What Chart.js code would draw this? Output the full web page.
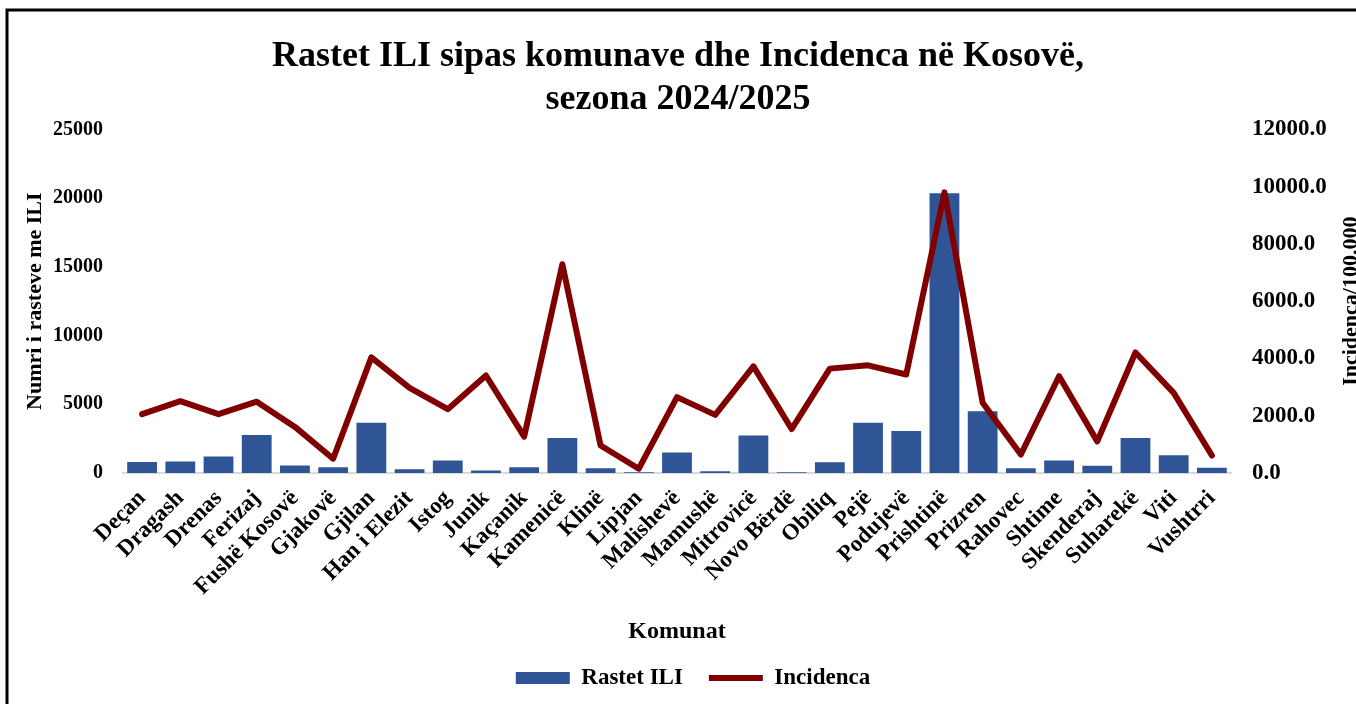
<!DOCTYPE html>
<html>
<head>
<meta charset="utf-8">
<script src="https://cdn.jsdelivr.net/npm/chart.js@4.4.1/dist/chart.umd.min.js"></script>
<style>
  html, body { margin: 0; padding: 0; background: #ffffff; }
  #wrap { position: relative; width: 1356px; height: 704px; }
</style>
</head>
<body>
<div id="wrap"><canvas id="c" width="1356" height="704"></canvas></div>
<script>
const categories = ["Deçan","Dragash","Drenas","Ferizaj","Fushë Kosovë","Gjakovë","Gjilan","Han i Elezit","Istog","Junik","Kaçanik","Kamenicë","Klinë","Lipjan","Malishevë","Mamushë","Mitrovicë","Novo Bërdë","Obiliq","Pejë","Podujevë","Prishtinë","Prizren","Rahovec","Shtime","Skenderaj","Suharekë","Viti","Vushtrri"];
const rastetILI = [800, 840, 1200, 2770, 550, 410, 3650, 270, 910, 190, 410, 2550, 340, 60, 1490, 120, 2720, 50, 790, 3650, 3050, 20350, 4500, 340, 910, 530, 2550, 1300, 390];
const incidenca = [2055, 2510, 2055, 2490, 1610, 500, 4040, 2975, 2230, 3405, 1270, 7290, 960, 150, 2650, 2030, 3725, 1535, 3645, 3760, 3440, 9800, 2455, 645, 3380, 1105, 4210, 2800, 610];
const leftTicks = [0, 5000, 10000, 15000, 20000, 25000];
const rightTicks = [0, 2000, 4000, 6000, 8000, 10000, 12000];

const SERIF = "'Liberation Serif', 'Times New Roman', serif";
const BLUE = '#2F5597';
const RED = '#800000';

const framePlugin = {
  id: 'frame',
  afterLayout(chart) {
    if (chart.legend) {
      chart.legend.left += 15;
      chart.legend.right += 15;
    }
  },
  beforeDraw(chart) {
    const ctx = chart.ctx;
    ctx.save();
    ctx.fillStyle = '#ffffff';
    ctx.fillRect(0, 0, chart.width, chart.height);
    ctx.strokeStyle = '#000000';
    ctx.lineWidth = 3;
    ctx.beginPath();
    ctx.moveTo(7, chart.height);
    ctx.lineTo(7, 10);
    ctx.lineTo(chart.width, 10);
    ctx.stroke();
    ctx.restore();
  },
  afterDraw(chart) {
    const ctx = chart.ctx;
    const area = chart.chartArea;
    ctx.save();
    ctx.fillStyle = '#000000';
    ctx.font = 'bold 22px ' + SERIF;
    ctx.translate(1357, (area.top + area.bottom) / 2);
    ctx.rotate(-Math.PI / 2);
    ctx.textAlign = 'center';
    ctx.textBaseline = 'alphabetic';
    ctx.fillText('Incidenca/100.000', 0, 0);
    ctx.restore();
  }
};

new Chart(document.getElementById('c'), {
  type: 'bar',
  data: {
    labels: categories,
    datasets: [
      {
        type: 'line',
        label: 'Incidenca',
        data: incidenca,
        yAxisID: 'y1',
        borderColor: RED,
        backgroundColor: RED,
        borderWidth: 6,
        borderJoinStyle: 'round',
        borderCapStyle: 'round',
        pointRadius: 0,
        pointHoverRadius: 0,
        pointStyle: 'line',
        tension: 0,
        order: 1
      },
      {
        type: 'bar',
        label: 'Rastet ILI',
        data: rastetILI,
        yAxisID: 'y',
        backgroundColor: BLUE,
        borderWidth: 0,
        pointStyle: 'rect',
        barPercentage: 0.78,
        categoryPercentage: 1.0,
        order: 2
      }
    ]
  },
  options: {
    responsive: false,
    animation: false,
    devicePixelRatio: 1,
    layout: { padding: { left: 0, right: 0, top: 0, bottom: 4.5 } },
    plugins: {
      title: {
        display: true,
        text: ['Rastet ILI sipas komunave dhe Incidenca në Kosovë,', 'sezona 2024/2025'],
        color: '#000000',
        font: { family: SERIF, size: 36, weight: 'bold', lineHeight: 1.2 },
        padding: { top: 35, bottom: 8 }
      },
      legend: {
        position: 'bottom',
        reverse: true,
        labels: {
          usePointStyle: true,
          pointStyleWidth: 54,
          boxHeight: 12,
          color: '#000000',
          padding: 26,
          font: { family: SERIF, size: 23, weight: 'bold' }
        }
      },
      tooltip: { enabled: false }
    },
    scales: {
      x: {
        grid: { display: false, drawTicks: false },
        border: { display: true, color: '#D9D9D9', width: 2 },
        ticks: {
          color: '#000000',
          font: { family: SERIF, size: 23, weight: 'bold' },
          minRotation: 45,
          maxRotation: 45,
          autoSkip: false,
          padding: 12
        },
        title: {
          display: true,
          text: 'Komunat',
          color: '#000000',
          font: { family: SERIF, size: 24, weight: 'bold', lineHeight: 1.0 },
          padding: { top: 0, bottom: -3 }
        },
        afterFit(scale) { scale.height = 167.5; }
      },
      y: {
        position: 'left',
        min: 0,
        max: 25000,
        afterBuildTicks(scale) { scale.ticks = leftTicks.map(v => ({ value: v })); },
        grid: { display: false, drawTicks: false },
        border: { display: false },
        ticks: {
          color: '#000000',
          font: { family: SERIF, size: 20, weight: 'bold' },
          padding: 20,
          callback: v => String(v)
        },
        title: {
          display: true,
          text: 'Numri i rasteve me ILI',
          color: '#000000',
          font: { family: SERIF, size: 22, weight: 'bold' },
          padding: { top: 22, bottom: 0 }
        },
        afterFit(scale) { scale.width = 123; }
      },
      y1: {
        position: 'right',
        min: 0,
        max: 12000,
        afterBuildTicks(scale) { scale.ticks = rightTicks.map(v => ({ value: v })); },
        grid: { display: false, drawTicks: false },
        border: { display: false },
        ticks: {
          color: '#000000',
          font: { family: SERIF, size: 23, weight: 'bold' },
          padding: 21,
          callback: v => Number(v).toFixed(1)
        },
        afterFit(scale) { scale.width = 125; }
      }
    }
  },
  plugins: [framePlugin]
});
</script>
</body>
</html>
